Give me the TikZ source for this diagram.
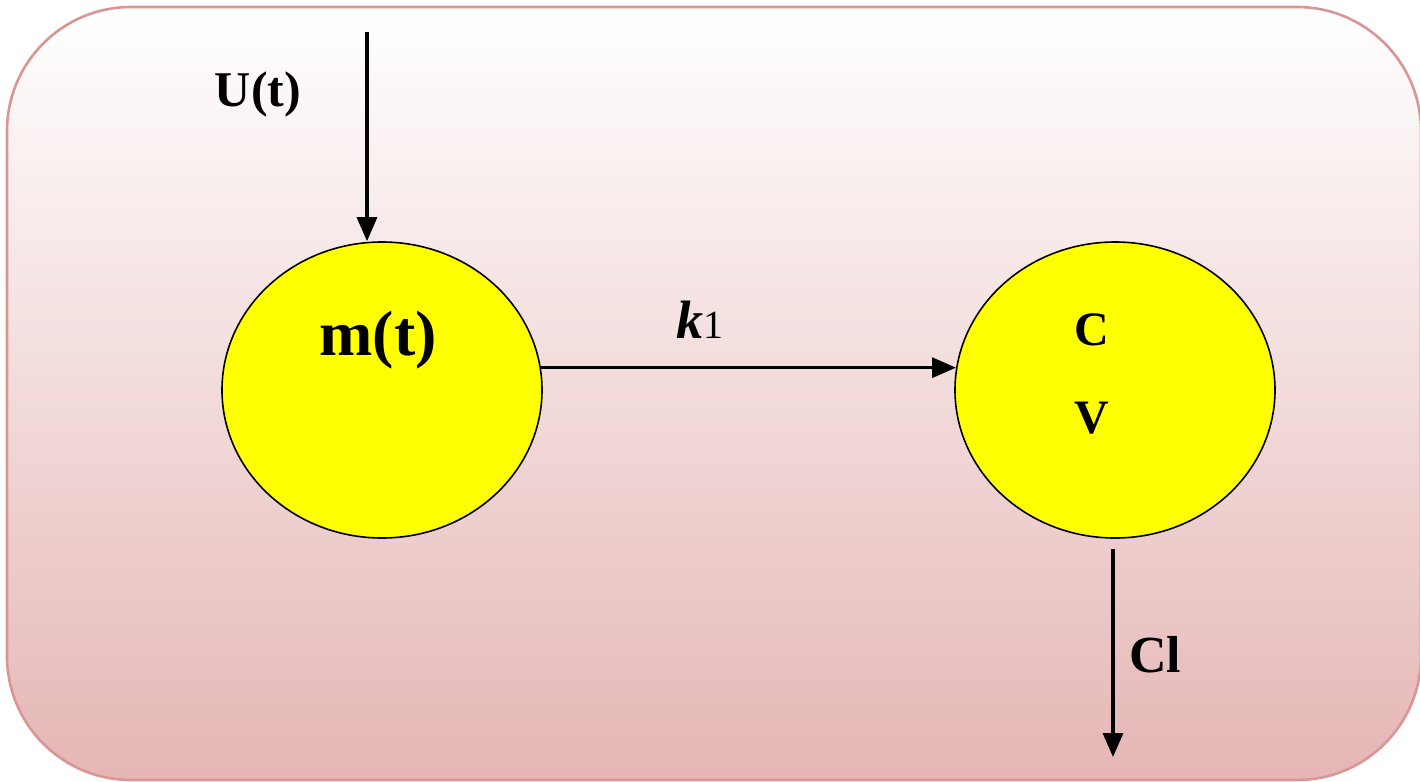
\documentclass[tikz,border=0pt]{standalone}
\usepackage{fontspec}
\setmainfont{Liberation Serif}
\usetikzlibrary{arrows.meta,shapes.geometric,positioning,calc}
\definecolor{panelTop}{HTML}{FFFFFF}
\definecolor{panelBot}{HTML}{E5B6B5}
\definecolor{panelLine}{HTML}{D99694}
\definecolor{compFill}{HTML}{FFFF00}

\begin{document}
\begin{tikzpicture}[x=0.5pt,y=-0.5pt,font=\bfseries,
    comp/.style={ellipse,draw=black,line width=0.8pt,fill=compFill,minimum width=160pt,minimum height=148pt},
    flow/.style={-{Triangle[length=12pt,width=10pt]},line width=1.6pt}]
  \useasboundingbox (0,0) rectangle (1420,782);
  \draw[panelLine,line width=1.3pt,rounded corners=62pt,top color=panelTop,bottom color=panelBot] (7,7) rectangle (1421,780);
  \node[comp] (mt) at (382,390) {};
  \node[comp] (cv) at (1115,390) {};
  \node[font=\fontsize{32}{36}\bfseries\selectfont] (mlab) at (378,340) {m(t)};
  \node[font=\fontsize{24}{28}\bfseries\selectfont] (clab) at (1092,330) {C};
  \node[font=\fontsize{24}{28}\bfseries\selectfont] (vlab) at (1092,418) {V};
  \coordinate (uin) at (367,32);
  \coordinate (clout) at (1113,757);
  \draw[flow] (uin) -- (uin |- mt.north);
  \draw[flow] (mt.8) -- (cv.172);
  \draw[flow] ([yshift=-5pt]cv.south -| clout) -- (clout);
  \node[font=\fontsize{25}{30}\bfseries\selectfont] (ulab) at (258,94) {U(t)};
  \node[font=\fontsize{27}{30}\bfseries\selectfont] (klab) at (700,320) {\textit{k}\fontsize{20}{22}\mdseries\selectfont1};
  \node[font=\fontsize{26}{30}\bfseries\selectfont] (cllab) at (1155,655) {Cl};
\end{tikzpicture}
\end{document}
